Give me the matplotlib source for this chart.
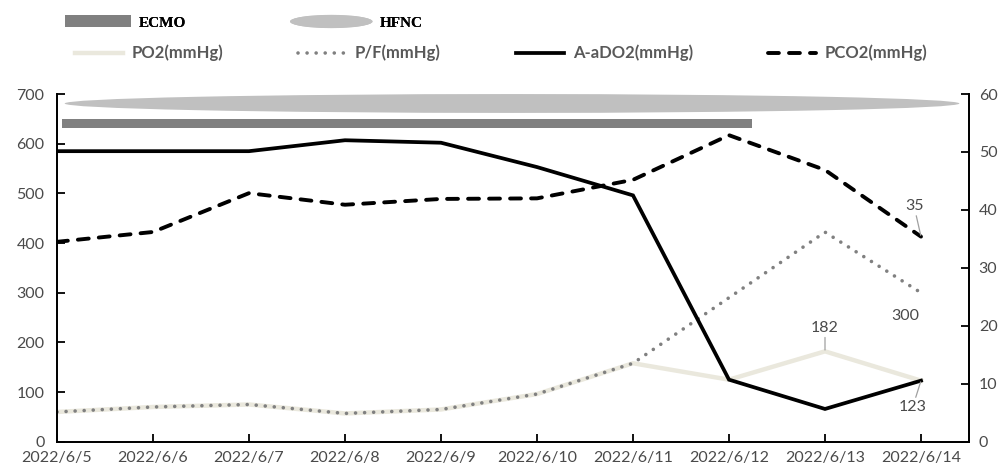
"""Blood gas trend over ECMO / HFNC support, 2022/6/5 - 2022/6/14."""

import matplotlib

matplotlib.use("Agg")
import matplotlib.pyplot as plt
from matplotlib.legend_handler import HandlerPatch
from matplotlib.lines import Line2D
from matplotlib.patches import Ellipse, Rectangle

DATES = [
    "2022/6/5", "2022/6/6", "2022/6/7", "2022/6/8", "2022/6/9",
    "2022/6/10", "2022/6/11", "2022/6/12", "2022/6/13", "2022/6/14",
]
PO2 = [60, 70, 75, 57, 65, 96, 158, 125, 182, 123]
PF = [60, 70, 75, 57, 65, 96, 158, 290, 422, 300]
AADO2 = [585, 585, 585, 607, 602, 553, 496, 125, 66, 123]
PCO2 = [34.5, 36.2, 42.9, 40.9, 41.9, 42.0, 45.2, 52.9, 46.9, 35.4]

# support periods, in date-index units
ECMO_SPAN = (0.05, 7.24)
HFNC_SPAN = (0.08, 9.4)

TXT = "#4a4a4a"
SANS = ["Lato", "DejaVu Sans"]
SERIF = ["Liberation Serif", "DejaVu Serif"]


class HandlerEllipse(HandlerPatch):
    def create_artists(self, legend, orig_handle, xdescent, ydescent,
                       width, height, fontsize, trans):
        center = (0.5 * width - xdescent, 0.5 * height - ydescent)
        p = Ellipse(xy=center, width=width, height=height)
        self.update_prop(p, orig_handle, legend)
        p.set_transform(trans)
        return [p]


fig = plt.figure(figsize=(9.99, 4.75), dpi=100)
ax = fig.add_axes([57 / 999, 0.070, (969 - 57) / 999, 0.732])
ax2 = ax.twinx()

x = list(range(len(DATES)))

# support bars
ax.add_patch(Ellipse(((HFNC_SPAN[0] + HFNC_SPAN[1]) / 2, 681),
                     HFNC_SPAN[1] - HFNC_SPAN[0], 38,
                     facecolor="#c0c0c0", edgecolor="none", clip_on=False))
ax.add_patch(Rectangle((ECMO_SPAN[0], 631), ECMO_SPAN[1] - ECMO_SPAN[0], 18,
                       facecolor="#808080", edgecolor="none"))

ax.plot(x, PO2, color="#eae8dd", lw=3.2, solid_joinstyle="miter")
ax.plot(x, PF, color="#808080", lw=2.6, linestyle=(0, (0.01, 2.5)),
        dash_capstyle="round")
ax.plot(x, AADO2, color="black", lw=2.7, solid_joinstyle="miter")
ax2.plot(x, PCO2, color="black", lw=2.8, linestyle=(0, (2.8, 2.6)),
         dash_capstyle="round")

# data labels on the last days
lbl = dict(fontsize=11.5, color=TXT, family=SANS, ha="center",
           textcoords="offset points",
           arrowprops=dict(arrowstyle="-", color="#a0a0a0", lw=0.9,
                           shrinkA=0, shrinkB=1))
ax.annotate(f"{PO2[8]}", xy=(8, PO2[8]), xytext=(0, 12), va="bottom", **lbl)
ax.annotate(f"{AADO2[9]}", xy=(9, AADO2[9]), xytext=(-6, -14), va="top", **lbl)
ax.annotate(f"{PF[9]}", xy=(9, PF[9]), xytext=(-11, -12), va="top",
            fontsize=11.5, color=TXT, family=SANS, ha="center",
            textcoords="offset points")
ax2.annotate(f"{PCO2[9]:.0f}", xy=(9, PCO2[9]), xytext=(-5, 17), va="bottom", **lbl)

ax.set_xlim(0, 9.5)
ax.set_ylim(0, 700)
ax.set_yticks(range(0, 701, 100))
ax2.set_ylim(0, 60)
ax2.set_yticks(range(0, 61, 10))
ax.set_xticks(x)
ax.set_xticklabels(DATES)

for a in (ax, ax2):
    a.spines["top"].set_visible(False)
    for s in a.spines.values():
        s.set_linewidth(1.3)
        s.set_color("black")
    a.tick_params(direction="in", length=6, width=1.3, color="black",
                  labelsize=11.5, labelcolor=TXT)
    for t in a.get_xticklabels() + a.get_yticklabels():
        t.set_family(SANS)
ax.tick_params(axis="x", pad=7)
ax.tick_params(axis="y", pad=9)
ax2.tick_params(axis="y", pad=7)

# legends: top row (support), second row (series)
leg_kw = dict(loc="center left", frameon=False, borderpad=0, borderaxespad=0,
              handletextpad=0.5, prop=dict(family=SERIF, weight="bold", size=11))
leg_ecmo = fig.legend([Rectangle((0, 0), 1, 1, facecolor="#808080", edgecolor="none")],
                      ["ECMO"], bbox_to_anchor=(65 / 999, 0.953),
                      handlelength=4.3, handleheight=0.85, **leg_kw)
leg_hfnc = fig.legend([Ellipse((0, 0), 1, 1, facecolor="#c0c0c0", edgecolor="none")],
                      ["HFNC"], bbox_to_anchor=(290 / 999, 0.953),
                      handlelength=5.4, handleheight=0.95,
                      handler_map={Ellipse: HandlerEllipse()}, **leg_kw)
for lg in (leg_ecmo, leg_hfnc):
    for t in lg.get_texts():
        t.set_color("black")
    fig.add_artist(lg)

row2 = [Line2D([], [], color="#eae8dd", lw=3.2),
        Line2D([], [], color="#808080", lw=2.6, linestyle=(0, (0.01, 2.5)),
               dash_capstyle="round"),
        Line2D([], [], color="black", lw=2.7),
        Line2D([], [], color="black", lw=2.8, linestyle=(0, (2.8, 2.6)),
               dash_capstyle="round")]
leg2 = fig.legend(row2, ["PO2(mmHg)", "P/F(mmHg)", "A-aDO2(mmHg)", "PCO2(mmHg)"],
                  loc="center left", bbox_to_anchor=(75 / 999, 0.888), ncol=4,
                  frameon=False, handlelength=2.9, handletextpad=0.5,
                  columnspacing=4.5, borderpad=0, borderaxespad=0,
                  prop=dict(family=SANS, weight="bold", size=12))
for t in leg2.get_texts():
    t.set_color("#595959")

fig.savefig("out.png", dpi=100)
